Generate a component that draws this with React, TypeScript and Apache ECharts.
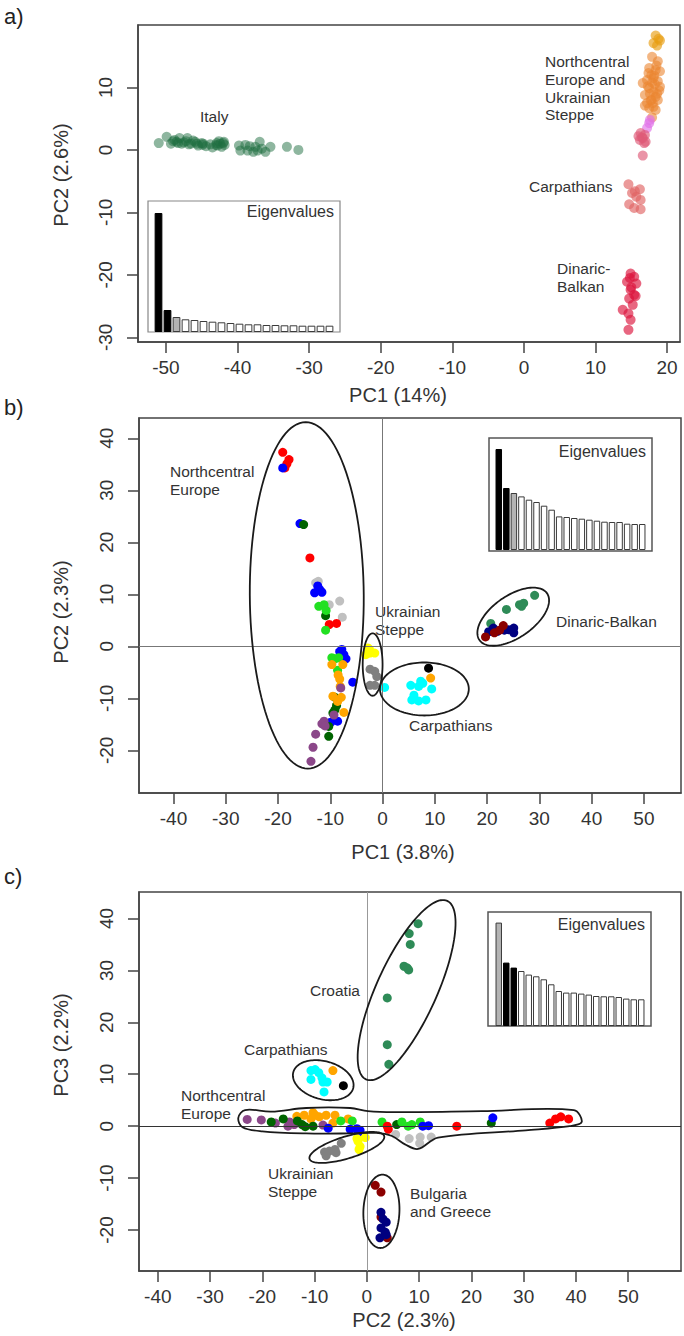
import React, { useEffect, useRef } from "react";
import * as echarts from "echarts";

const FONT = "'Liberation Sans', Arial, Helvetica, sans-serif";

// ---------- tick labels ----------
const ticksAX = [-50, -40, -30, -20, -10, 0, 10, 20];
const ticksAY = [-30, -20, -10, 0, 10];
const ticksBX = [-40, -30, -20, -10, 0, 10, 20, 30, 40, 50];
const ticksBY = [-20, -10, 0, 10, 20, 30, 40];
const ticksCX = [-40, -30, -20, -10, 0, 10, 20, 30, 40, 50];
const ticksCY = [-20, -10, 0, 10, 20, 30, 40];

// ---------- panel a : PC1 vs PC2 ----------
const italyA = [[-51.0,1.1],[-49.9,2.1],[-49.3,1.0],[-48.8,1.6],[-48.1,1.9],[-47.5,1.2],[-47.0,1.9],[-46.5,1.0],[-45.9,1.3],[-45.5,0.7],[-45.0,1.1],[-44.4,0.6],[-43.5,0.4],[-42.9,1.1],[-42.6,1.4],[-42.2,0.5],[-41.8,0.8],[-39.8,0.7],[-39.6,-0.1],[-38.9,0.8],[-38.6,-0.1],[-37.8,-0.3],[-37.5,0.5],[-36.9,1.3],[-36.6,0.2],[-36.1,-0.3],[-35.4,0.5],[-33.1,0.5],[-31.5,0.0],[-48.5,1.3],[-47.8,1.0],[-46.2,1.5],[-44.8,1.0],[-43.0,0.8],[-42.4,1.0],[-41.9,1.3],[-38.3,0.6],[-37.2,-0.1],[-49.0,1.4],[-48.3,1.1],[-47.2,1.4],[-46.8,0.9],[-45.7,1.0],[-44.9,0.8],[-43.8,0.9],[-42.8,0.7],[-42.0,1.1]];
const nceTopA = [[18.4,18.3],[19.0,17.5],[18.1,17.1],[18.6,16.7],[18.8,17.8]];
const nceA = [[17.9,14.9],[18.7,14.2],[17.5,13.1],[18.4,12.8],[19.0,12.6],[16.6,10.7],[17.2,11.2],[18.1,11.5],[18.7,11.0],[19.0,10.1],[17.5,9.9],[18.1,9.3],[16.9,8.8],[18.4,8.5],[17.8,8.0],[18.7,8.0],[17.2,7.5],[18.1,6.9],[16.9,7.1],[17.5,6.7],[18.4,6.4],[17.9,5.2],[17.8,12.0],[18.3,10.5],[17.6,9.0],[18.0,7.5],[18.9,9.5],[17.3,10.2],[18.5,13.5],[17.4,12.3],[18.2,11.9],[17.9,10.8],[18.6,9.0],[17.7,7.9]];
const violetA = [[17.5,4.3],[17.2,3.5],[17.6,4.8]];
const pinkA = [[16.3,2.7],[16.9,2.4],[16.6,1.9],[16.2,1.6],[17.0,1.3],[16.8,1.1],[16.6,-0.9],[16.0,2.2],[16.5,2.0]];
const carpA = [[14.6,-5.5],[15.1,-6.9],[16.2,-6.3],[15.7,-7.5],[16.3,-8.0],[14.7,-8.7],[15.4,-9.3],[16.3,-9.5],[15.5,-6.6]];
const dinA = [[14.9,-19.8],[15.4,-20.3],[14.4,-21.1],[15.7,-21.4],[14.9,-22.4],[15.4,-23.2],[14.7,-23.8],[15.2,-24.8],[13.8,-25.6],[14.6,-26.2],[14.9,-27.2],[14.6,-28.8],[15.6,-23.4],[15.0,-22.0],[14.8,-20.5]];
const eigA = [119, 22, 15, 12.7, 12, 11, 10.3, 9.7, 9, 8.3, 7.7, 7.7, 7, 7, 6.7, 6.7, 6.3, 6.3, 6.3, 6.3];

// ---------- panel b : PC1 vs PC2 ----------
const redB = [[-19.1,37.3],[-17.9,35.9],[-18.3,35.1],[-18.7,34.3],[-13.9,17.0],[-10.2,4.2],[-8.8,4.4]];
const blueB = [[-19.1,34.3],[-15.8,23.6],[-12.4,11.6],[-12.0,10.9],[-13.0,10.3],[-11.6,10.4],[-8.2,-1.0],[-7.8,-0.6],[-7.4,-1.6],[-7.0,-2.4],[-5.7,-6.9],[-8.6,-14.4],[-9.9,-14.6]];
const dkgreenB = [[-15.1,23.4],[-10.9,5.9],[-9.1,-9.8],[-8.8,-11.4],[-9.1,-12.2],[-9.5,-12.8],[-10.3,-15.4],[-10.3,-17.3]];
const ltgrayB = [[-12.3,12.5],[-12.8,12.2],[-10.2,8.0],[-8.2,8.7],[-7.7,5.6]];
const greenB = [[-12.2,7.7],[-11.2,8.0],[-10.8,6.9],[-10.9,3.1],[-9.7,-2.2],[-9.1,-2.4],[-8.4,-2.2],[-8.6,-4.6]];
const orangeB = [[-9.7,-3.5],[-7.6,-3.5],[-8.5,-5.5],[-8.2,-6.3],[-8.1,-7.7],[-9.5,-9.6],[-7.9,-9.8],[-8.6,-10.6],[-7.4,-12.7],[9.2,-6.1]];
const purpleB = [[-8.0,-8.0],[-9.3,-13.2],[-11.2,-14.4],[-11.6,-14.9],[-11.0,-15.3],[-12.8,-16.9],[-13.3,-19.4],[-13.7,-22.1]];
const yellowB = [[-2.8,-0.3],[-2.4,-1.3],[-3.2,-1.6],[-1.5,-1.3],[-2.5,-0.6]];
const grayB = [[-2.4,-4.4],[-1.5,-4.8],[-1.1,-5.8],[-2.4,-7.5],[-1.5,-7.5]];
const cyanB = [[0.4,-7.9],[5.4,-7.5],[6.9,-7.7],[7.7,-7.1],[7.3,-6.7],[9.4,-8.2],[6.0,-9.4],[5.6,-10.3],[6.9,-10.5],[8.3,-10.3]];
const blackB = [[8.8,-4.2]];
const seagreenB = [[29.1,9.8],[26.2,8.0],[27.0,8.3],[26.6,7.7],[23.7,7.1],[20.7,4.4]];
const navyB = [[20.3,2.8],[21.2,3.5],[22.0,2.9],[23.3,3.1],[24.1,3.2],[25.1,3.5],[25.1,2.6]];
const maroonB = [[19.7,1.8],[21.4,2.6],[22.4,3.1],[23.1,4.0]];
const eigB = [101, 62, 57, 53.6, 50.3, 48, 44.3, 40.3, 33.6, 33, 32, 31.3, 30.3, 29.3, 28.3, 28, 28, 26.3, 26, 26];
// ellipses: centre x, centre y, semi-axis vector A (x,y), semi-axis vector B (x,y), data units
const ellipsesB = [
  [-14.5, 9.8, -0.2, 33.3, 10.9, 0],
  [-1.9, -3.5, 0, 6.0, 1.9, 0],
  [8.0, -8.2, 8.5, 0, 0, 5.1],
  [25.0, 5.7, 6.47, 4.49, 2.28, -3.33],
];

// ---------- panel c : PC2 vs PC3 ----------
const seagreenC = [[9.8,39.0],[8.1,37.1],[8.3,35.0],[7.1,30.8],[7.7,30.5],[8.0,30.1],[3.9,24.7],[3.9,15.7],[4.2,11.9]];
const cyanC = [[-10.7,10.7],[-9.9,10.9],[-10.7,9.0],[-8.6,9.3],[-8.4,8.5],[-7.6,8.5],[-8.2,6.6],[-9.2,10.3]];
const orangeC = [[-6.5,10.7],[-13.4,1.9],[-12.0,2.1],[-10.3,2.6],[-9.9,2.1],[-9.1,1.8],[-7.8,2.1],[-6.1,2.1],[-6.5,0.6],[-3.6,1.4],[-10.7,1.4]];
const blackC = [[-4.5,7.8]];
const purpleC = [[-22.9,1.3],[-20.2,1.2],[-17.5,0.6],[-15.1,0.0],[-14.8,0.8],[-13.9,0.3],[-8.4,0.2]];
const dkgreenC = [[-18.3,0.8],[-16.0,1.4],[-13.3,1.0],[-12.4,0.3],[-11.8,-0.1],[-10.3,0.0],[5.7,0.3],[23.8,0.6]];
const greenC = [[-5.0,1.0],[-2.8,1.0],[2.9,0.8],[6.7,0.8],[7.9,0.0],[8.6,0.3],[10.2,0.8]];
const blueC = [[-7.4,-0.4],[-3.2,-0.6],[-1.9,-0.5],[-1.3,-0.8],[-1.7,-1.3],[10.7,0.0],[11.8,0.1],[24.1,1.6]];
const redC = [[3.9,0.0],[4.1,-0.6],[17.2,0.0],[35.0,0.6],[36.1,1.4],[37.1,1.8],[38.6,1.4]];
const ltgrayC = [[5.5,-1.6],[8.1,-2.4],[10.2,-2.1],[10.1,-3.3],[12.3,-2.1]];
const yellowC = [[-1.7,-2.9],[-1.3,-3.9],[-1.5,-4.5],[-0.3,-2.2],[-1.9,-2.4]];
const grayC = [[-4.9,-3.3],[-6.1,-4.5],[-8.1,-5.0],[-7.8,-5.7],[-7.2,-4.8],[-5.9,-5.1]];
const maroonC = [[1.6,-11.4],[2.7,-12.7],[2.7,-17.5],[3.9,-21.5]];
const navyC = [[2.7,-16.6],[3.1,-17.9],[3.7,-18.5],[2.7,-19.6],[3.5,-20.4],[2.5,-21.5],[3.7,-20.9]];
const eigC = [103.4, 63.4, 58.4, 55, 51.4, 49.7, 46.7, 41.7, 35, 33.4, 33.4, 32.4, 31.4, 30, 29.7, 29.7, 29, 27.4, 26.7, 26.7];
const ellipsesC = [
  [7.6, 26.2, 7.77, 17.19, 5.23, -2.39],
  [-8.35, 8.85, 5.73, -1.54, -0.94, -3.54],
  [-3.83, -4.1, 7.14, 2.2, 0.61, -2.02],
  [2.78, -16.4, 0.2, 7.07, 3.45, 0],
];
const blobC = [[-24.6,1.6],[-23.3,3.1],[-18.3,2.8],[-11.6,3.5],[-3.2,3.5],[0.2,2.9],[5.2,2.7],[22.0,2.9],[39.6,3.1],[41.1,0.8],[38.8,0.0],[30.4,-0.8],[13.6,-2.2],[9.8,-4.4],[7.3,-3.5],[4.8,-1.9],[1.8,-1.3],[-3.2,-1.4],[-11.6,-1.4],[-20.0,-1.0],[-23.8,-0.2]];

const eigCategories = Array.from({ length: 20 }, (_, i) => String(i + 1));

export default function App() {
  const ref = useRef<HTMLDivElement>(null);
  useEffect(() => {
    document.body.style.margin = "0";
    const chart = echarts.init(ref.current!, null, { renderer: "svg" });

    const axisCol = "#444";
    const mainX = (gi: number, min: number, max: number, ticks: number[]) => ({
      gridIndex: gi, type: "value", min, max,
      axisLine: { show: true, onZero: false, lineStyle: { color: axisCol, width: 1.5 } },
      axisTick: { show: true, length: 11, customValues: ticks, lineStyle: { color: axisCol, width: 1.5 } },
      axisLabel: { customValues: ticks, color: "#333", fontSize: 19, fontFamily: FONT, margin: 16 },
      splitLine: { show: false },
    });
    const mainY = (gi: number, min: number, max: number, ticks: number[]) => ({
      gridIndex: gi, type: "value", min, max,
      axisLine: { show: true, onZero: false, lineStyle: { color: axisCol, width: 1.5 } },
      axisTick: { show: true, length: 11, customValues: ticks, lineStyle: { color: axisCol, width: 1.5 } },
      axisLabel: { customValues: ticks, color: "#333", fontSize: 19, fontFamily: FONT, margin: 23, rotate: 90 },
      splitLine: { show: false },
    });
    const insetX = (gi: number) => ({
      gridIndex: gi, type: "category", data: eigCategories, show: false,
    });
    const insetY = (gi: number, max: number) => ({
      gridIndex: gi, type: "value", min: 0, max, show: false, splitLine: { show: false },
    });

    const sc = (idx: number, data: number[][], color: string, size = 9, opacity = 1) => ({
      type: "scatter", xAxisIndex: idx, yAxisIndex: idx, data, symbolSize: size, silent: true,
      itemStyle: { color, opacity }, z: 4,
    });

    const ellipse = (idx: number, list: number[][]) => ({
      type: "custom", xAxisIndex: idx, yAxisIndex: idx, silent: true, clip: false, z: 5,
      data: list, encode: { x: 0, y: 1 },
      renderItem: (params: any, api: any) => {
        const cx = api.value(0), cy = api.value(1), ax = api.value(2), ay = api.value(3), bx = api.value(4), by = api.value(5);
        const pts: number[][] = [];
        for (let i = 0; i < 120; i++) {
          const t = (i / 120) * Math.PI * 2;
          pts.push(api.coord([cx + ax * Math.cos(t) + bx * Math.sin(t), cy + ay * Math.cos(t) + by * Math.sin(t)]));
        }
        return { type: "polygon", shape: { points: pts }, style: { fill: "none", stroke: "#1a1a1a", lineWidth: 1.8 } };
      },
    });

    const blob = (idx: number, verts: number[][]) => ({
      type: "custom", xAxisIndex: idx, yAxisIndex: idx, silent: true, clip: false, z: 5,
      data: [[verts[0][0], verts[0][1]]], encode: { x: 0, y: 1 },
      renderItem: (params: any, api: any) => {
        const pts = verts.map((v) => api.coord(v));
        return { type: "polygon", shape: { points: pts, smooth: 0.35 }, style: { fill: "none", stroke: "#1a1a1a", lineWidth: 1.8 } };
      },
    });

    const zeroLines = (idx: number, vColor: string, hColor: string) => ({
      type: "scatter", xAxisIndex: idx, yAxisIndex: idx, data: [], silent: true, z: 1,
      markLine: {
        silent: true, symbol: ["none", "none"], label: { show: false }, animation: false,
        data: [
          { xAxis: 0, lineStyle: { color: vColor, width: 1, type: "solid" } },
          { yAxis: 0, lineStyle: { color: hColor, width: 1, type: "solid" } },
        ],
      },
    });

    const eigSeries = (idx: number, vals: number[], blacks: number[], grays: number[]) => ({
      type: "bar", xAxisIndex: idx, yAxisIndex: idx, silent: true, barCategoryGap: "14%",
      data: vals.map((v, i) => ({
        value: v,
        itemStyle: {
          color: blacks.includes(i) ? "#000" : grays.includes(i) ? "#b4b4b4" : "#fff",
          borderColor: blacks.includes(i) ? "#000" : "#3a3a3a",
          borderWidth: 1,
        },
      })),
    });

    const txt = (x: number, y: number, text: string, opts: any = {}) => ({
      type: "text", x, y, silent: true, rotation: opts.rotation || 0,
      style: {
        text, fill: opts.fill || "#333", fontSize: opts.fontSize || 15.5, fontFamily: FONT,
        align: opts.align || "left", verticalAlign: opts.verticalAlign || "middle", lineHeight: opts.lineHeight || 18,
      },
    });

    const gridBox = { show: true, borderColor: "#444", borderWidth: 1.5, backgroundColor: "transparent" };

    const option: any = {
      animation: false,
      backgroundColor: "#fff",
      grid: [
        { left: 138, top: 25, width: 542, height: 317, ...gridBox },
        { left: 139, top: 418, width: 542, height: 375, ...gridBox },
        { left: 139, top: 892, width: 542, height: 379, ...gridBox },
        { left: 154, top: 201, width: 180, height: 131 },
        { left: 495, top: 438, width: 151, height: 112 },
        { left: 495, top: 912, width: 150, height: 114 },
      ],
      xAxis: [
        mainX(0, -53.9, 21.8, ticksAX),
        mainX(1, -46.6, 57.1, ticksBX),
        mainX(2, -43.6, 60.1, ticksCX),
        insetX(3), insetX(4), insetX(5),
      ],
      yAxis: [
        mainY(0, -30.75, 20.0, ticksAY),
        mainY(1, -28.2, 43.9, ticksBY),
        mainY(2, -27.9, 45.1, ticksCY),
        insetY(3, 131), insetY(4, 112), insetY(5, 114),
      ],
      series: [
        // panel a
        sc(0, italyA, "#1d6e40", 10, 0.5),
        sc(0, nceTopA, "#e89e12", 10, 0.65),
        sc(0, nceA, "#eb8530", 10, 0.6),
        sc(0, violetA, "#e070e8", 10, 0.65),
        sc(0, pinkA, "#de5a78", 10, 0.65),
        sc(0, carpA, "#e06464", 10, 0.65),
        sc(0, dinA, "#dc143c", 10, 0.65),
        // panel b
        zeroLines(1, "#777", "#777"),
        sc(1, ltgrayB, "#c0c0c0"),
        sc(1, redB, "#ff0000"),
        sc(1, blueB, "#0000ff"),
        sc(1, dkgreenB, "#006400"),
        sc(1, greenB, "#22e022"),
        sc(1, orangeB, "#ffa500"),
        sc(1, purpleB, "#8b4789"),
        sc(1, yellowB, "#ffff00"),
        sc(1, grayB, "#808080"),
        sc(1, cyanB, "#00ffff"),
        sc(1, blackB, "#000000"),
        sc(1, seagreenB, "#2e8b57"),
        sc(1, navyB, "#000080"),
        sc(1, maroonB, "#8b0000"),
        ellipse(1, ellipsesB),
        // panel c
        zeroLines(2, "#999", "#333"),
        sc(2, seagreenC, "#2e8b57"),
        sc(2, cyanC, "#00ffff"),
        sc(2, orangeC, "#ffa500"),
        sc(2, blackC, "#000000"),
        sc(2, purpleC, "#8b4789"),
        sc(2, dkgreenC, "#006400"),
        sc(2, greenC, "#22e022"),
        sc(2, blueC, "#0000ff"),
        sc(2, redC, "#ff0000"),
        sc(2, ltgrayC, "#c0c0c0"),
        sc(2, yellowC, "#ffff00"),
        sc(2, grayC, "#808080"),
        sc(2, maroonC, "#8b0000"),
        sc(2, navyC, "#000080"),
        ellipse(2, ellipsesC),
        blob(2, blobC),
        // insets
        eigSeries(3, eigA, [0, 1], [2]),
        eigSeries(4, eigB, [0, 1], [2]),
        eigSeries(5, eigC, [1, 2], [0]),
      ],
      graphic: [
        { type: "rect", silent: true, shape: { x: 148, y: 201, width: 192, height: 131 }, style: { fill: "none", stroke: "#888", lineWidth: 1.2 } },
        { type: "rect", silent: true, shape: { x: 489, y: 438, width: 163, height: 113 }, style: { fill: "none", stroke: "#555", lineWidth: 1.5 } },
        { type: "rect", silent: true, shape: { x: 488, y: 912, width: 163, height: 114 }, style: { fill: "none", stroke: "#555", lineWidth: 1.5 } },
        // panel letters
        txt(4, 16, "a)", { fontSize: 22, fill: "#222" }),
        txt(4, 407, "b)", { fontSize: 22, fill: "#222" }),
        txt(4, 876, "c)", { fontSize: 22, fill: "#222" }),
        // axis titles
        txt(398, 395, "PC1 (14%)", { fontSize: 20, align: "center" }),
        txt(61, 175, "PC2 (2.6%)", { fontSize: 20, align: "center", rotation: Math.PI / 2 }),
        txt(403, 852, "PC1 (3.8%)", { fontSize: 20, align: "center" }),
        txt(61, 612, "PC2 (2.3%)", { fontSize: 20, align: "center", rotation: Math.PI / 2 }),
        txt(404, 1320, "PC2 (2.3%)", { fontSize: 20, align: "center" }),
        txt(61, 1045, "PC3 (2.2%)", { fontSize: 20, align: "center", rotation: Math.PI / 2 }),
        // panel a annotations
        txt(200, 116, "Italy"),
        txt(545, 53, "Northcentral\nEurope and\nUkrainian\nSteppe", { verticalAlign: "top", lineHeight: 17.7 }),
        txt(529, 186, "Carpathians"),
        txt(557, 259, "Dinaric-\nBalkan", { verticalAlign: "top", lineHeight: 18 }),
        txt(334, 211, "Eigenvalues", { fontSize: 16, align: "right" }),
        // panel b annotations
        txt(170, 463, "Northcentral\nEurope", { verticalAlign: "top", lineHeight: 17.5 }),
        txt(375, 602, "Ukrainian\nSteppe", { verticalAlign: "top", lineHeight: 18 }),
        txt(556, 621, "Dinaric-Balkan"),
        txt(409, 725, "Carpathians"),
        txt(646, 451, "Eigenvalues", { fontSize: 16, align: "right" }),
        // panel c annotations
        txt(310, 990, "Croatia"),
        txt(244, 1049, "Carpathians"),
        txt(181, 1086, "Northcentral\nEurope", { verticalAlign: "top", lineHeight: 18 }),
        txt(268, 1164, "Ukrainian\nSteppe", { verticalAlign: "top", lineHeight: 18 }),
        txt(410, 1184, "Bulgaria\nand Greece", { verticalAlign: "top", lineHeight: 18 }),
        txt(645, 924, "Eigenvalues", { fontSize: 16, align: "right" }),
      ],
    };
    chart.setOption(option);
    return () => chart.dispose();
  }, []);
  return <div ref={ref} style={{ width: 684, height: 1336 }} />;
}
